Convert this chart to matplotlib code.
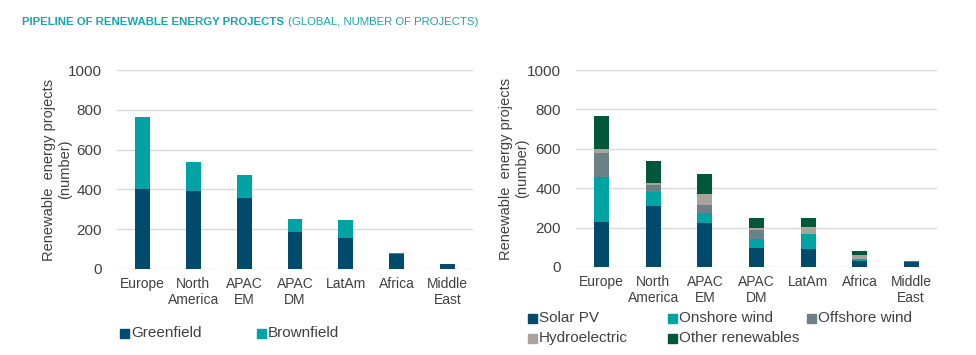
import matplotlib
matplotlib.use("Agg")
import matplotlib.pyplot as plt
from matplotlib.patches import Rectangle
import numpy as np

plt.rcParams['font.family'] = ['Liberation Sans', 'DejaVu Sans']

categories = ["Europe", "North\nAmerica", "APAC\nEM", "APAC\nDM", "LatAm", "Africa", "Middle\nEast"]

greenfield = [400, 391, 358, 184, 157, 74, 23]
brownfield = [365, 147, 112, 65, 89, 6, 4]

solar_pv = [230, 311, 223, 98, 91, 32, 27]
onshore_wind = [229, 72, 49, 42, 76, 5, 3]
offshore_wind = [122, 33, 42, 48, 2, 5, 0]
hydroelectric = [17, 11, 59, 10, 32, 17, 0]
other_renewables = [169, 110, 98, 52, 46, 22, 0]

yticks = [0, 200, 400, 600, 800, 1000]

C_NAVY = "#004a6b"
C_TEAL = "#00a3a3"
C_GRAY = "#6b8186"
C_TAUPE = "#aaa39b"
C_GREEN = "#00573a"
TXT = "#404040"

fig = plt.figure(figsize=(9.76, 3.55), dpi=100)
W, H = 976, 355

def ax_at(x0, y0, x1, y1):
    return fig.add_axes([x0 / W, 1 - y1 / H, (x1 - x0) / W, (y1 - y0) / H])

axL = ax_at(117, 70, 473, 269)
axR = ax_at(576, 70, 937, 267)

def style(ax, ylab_x):
    ax.set_ylim(0, 1000)
    ax.set_xlim(-0.5, len(categories) - 0.5)
    ax.set_yticks(yticks)
    ax.set_yticklabels([str(v) for v in yticks], fontsize=11, color=TXT)
    ax.set_xticks(range(len(categories)))
    ax.set_xticklabels(categories, fontsize=10, color=TXT, linespacing=1.15)
    ax.tick_params(length=0, pad=6)
    ax.tick_params(axis='y', pad=11)
    for s in ax.spines.values():
        s.set_visible(False)
    ax.grid(axis='y', color="#d9d9d9", linewidth=1.0)
    ax.set_axisbelow(True)
    ax.set_ylabel("Renewable  energy projects\n(number)", fontsize=10.5, color=TXT, linespacing=1.2)
    bbox = ax.get_position()
    ax.yaxis.set_label_coords((ylab_x / W - bbox.x0) / bbox.width, 0.5)

x = np.arange(len(categories))
bw = 0.29

axL.bar(x, greenfield, bw, color=C_NAVY, label="Greenfield")
axL.bar(x, brownfield, bw, bottom=greenfield, color=C_TEAL, label="Brownfield")
style(axL, 72)

series = [(solar_pv, C_NAVY, "Solar PV"), (onshore_wind, C_TEAL, "Onshore wind"),
          (offshore_wind, C_GRAY, "Offshore wind"), (hydroelectric, C_TAUPE, "Hydroelectric"),
          (other_renewables, C_GREEN, "Other renewables")]
bottom = np.zeros(len(categories))
colors = {}
for vals, col, lab in series:
    axR.bar(x, vals, bw, bottom=bottom, color=col, label=lab)
    colors[lab] = col
    bottom += np.array(vals)
style(axR, 529)

def legend_item(px, py, col, lab):
    s = 9
    fig.patches.append(Rectangle((px / W, 1 - (py + s / 2) / H), s / W, s / H,
                                 transform=fig.transFigure, color=col, figure=fig))
    fig.text((px + s + 2) / W, 1 - py / H, lab, fontsize=11, color=TXT, va="center", ha="left")

legend_item(120, 333, C_NAVY, "Greenfield")
legend_item(257, 333, C_TEAL, "Brownfield")
legend_item(528, 318, colors["Solar PV"], "Solar PV")
legend_item(668, 318, colors["Onshore wind"], "Onshore wind")
legend_item(807, 318, colors["Offshore wind"], "Offshore wind")
legend_item(528, 338, colors["Hydroelectric"], "Hydroelectric")
legend_item(668, 338, colors["Other renewables"], "Other renewables")

# title
t1 = fig.text(22 / W, 1 - 22 / H, "PIPELINE OF RENEWABLE ENERGY PROJECTS", fontsize=8.2,
              fontweight="bold", color="#1ba5b0", va="center", ha="left")
fig.canvas.draw()
bb = t1.get_window_extent()
fig.text((bb.x1 + 4) / W, 1 - 22 / H, "(GLOBAL, NUMBER OF PROJECTS)", fontsize=8.2,
         color="#1ba5b0", va="center", ha="left")

fig.savefig("out.png", dpi=100)
